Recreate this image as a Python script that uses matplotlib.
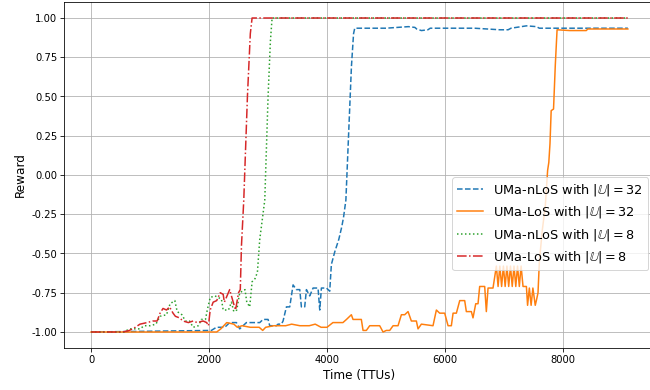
import matplotlib
matplotlib.use("Agg")
import matplotlib.pyplot as plt

# --- data -----------------------------------------------------------------
# UMa-nLoS, |U| = 32
nlos32_t = [0, 2040, 2125, 2266, 2351, 2464, 2520, 2634, 2690, 2747, 2860, 2916,
            3001, 3029, 3142, 3170, 3227, 3255, 3312, 3368, 3425, 3481, 3538,
            3566, 3622, 3651, 3707, 3764, 3848, 3877, 3905, 3990, 4046, 4074,
            4131, 4200, 4250, 4280, 4320, 4374, 4414, 4450, 4470, 5000, 5380,
            5490, 5520, 5600, 5710, 5750, 6500, 6930, 7070, 7120, 7380, 7550,
            7600, 9100]
nlos32_r = [-1.0, -0.99, -0.97, -0.97, -0.94, -0.94, -0.98, -0.94, -0.94,
            -0.94, -0.94, -0.92, -0.92, -0.96, -0.96, -0.95, -0.95, -0.93,
            -0.84, -0.84, -0.70, -0.73, -0.73, -0.84, -0.84, -0.73, -0.77,
            -0.72, -0.72, -0.86, -0.72, -0.72, -0.74, -0.57, -0.49, -0.41,
            -0.33, -0.27, -0.16, 0.33, 0.69, 0.90, 0.935, 0.935, 0.945, 0.94,
            0.93, 0.92, 0.925, 0.935, 0.935, 0.925, 0.925, 0.935, 0.95, 0.945,
            0.935, 0.935]

# UMa-LoS, |U| = 32
los32_t = [0, 2130, 2200, 2300, 2420, 2480, 2560, 2700, 2850, 2910, 2960, 3100,
           3300, 3400, 3540, 3700, 3800, 3900, 4000, 4100, 4270, 4330, 4413,
           4441, 4497, 4582, 4611, 4667, 4724, 4893, 4950, 5006, 5063, 5120,
           5204, 5261, 5317, 5374, 5430, 5515, 5543, 5600, 5797, 5854, 5910,
           5995, 6052, 6108, 6137, 6193, 6250, 6334, 6362, 6447, 6475, 6521,
           6560, 6588, 6673, 6701, 6730, 6814, 6871, 6900, 6930, 6960, 6990,
           7020, 7050, 7080, 7110, 7140, 7170, 7200, 7230, 7260, 7290, 7323,
           7380, 7400, 7430, 7460, 7490, 7530, 7549, 7577, 7600, 7650, 7700,
           7740, 7760, 7780, 7800, 7840, 7870, 7900, 8113, 8395, 8420, 9100]
los32_r = [-1.0, -1.0, -0.98, -0.94, -0.95, -0.97, -0.96, -0.97, -0.97, -0.99,
           -0.97, -0.96, -0.96, -0.95, -0.96, -0.96, -0.95, -0.97, -0.97,
           -0.94, -0.94, -0.92, -0.89, -0.92, -0.92, -0.92, -0.99, -0.99,
           -0.96, -0.96, -1.0, -0.99, -0.99, -0.96, -0.96, -0.89, -0.89,
           -0.87, -0.93, -0.93, -0.98, -0.95, -0.96, -0.86, -0.88, -0.88,
           -0.96, -0.96, -0.88, -0.88, -0.80, -0.80, -0.87, -0.87, -0.91,
           -0.82, -0.82, -0.71, -0.71, -0.87, -0.72, -0.72, -0.58, -0.71,
           -0.58, -0.71, -0.58, -0.71, -0.58, -0.71, -0.58, -0.71, -0.58,
           -0.71, -0.58, -0.71, -0.58, -0.71, -0.71, -0.83, -0.72, -0.83,
           -0.72, -0.83, -0.80, -0.75, -0.55, -0.35, -0.20, 0.03, 0.08, 0.20,
           0.41, 0.42, 0.70, 0.925, 0.92, 0.92, 0.93, 0.93]

# UMa-nLoS, |U| = 8
nlos8_t = [0, 560, 650, 830, 900, 1000, 1100, 1170, 1280, 1340, 1420, 1460,
           1540, 1600, 1670, 1730, 1820, 1870, 1940, 1970, 2020, 2100, 2210,
           2240, 2330, 2380, 2420, 2470, 2520, 2610, 2640, 2690, 2730, 2780,
           2820, 2860, 2945, 3001, 3040, 3069, 9100]
nlos8_r = [-1.0, -1.0, -0.98, -0.98, -0.96, -0.96, -0.95, -0.90, -0.89, -0.82,
           -0.80, -0.87, -0.89, -0.93, -0.93, -0.97, -0.96, -0.92, -0.92,
           -0.86, -0.78, -0.77, -0.79, -0.86, -0.86, -0.81, -0.87, -0.86,
           -0.75, -0.73, -0.81, -0.84, -0.68, -0.66, -0.62, -0.41, -0.16,
           0.50, 0.85, 1.0, 1.0]

# UMa-LoS, |U| = 8
los8_t = [0, 540, 650, 750, 830, 950, 1050, 1120, 1170, 1220, 1280, 1330,
          1390, 1430, 1500, 1560, 1650, 1730, 1800, 1900, 1960, 1990, 2020,
          2070, 2130, 2190, 2240, 2260, 2350, 2410, 2450, 2500, 2530, 2550,
          2589, 2651, 2700, 2730, 9100]
los8_r = [-1.0, -1.0, -0.99, -0.97, -0.95, -0.94, -0.93, -0.93, -0.88, -0.85,
          -0.86, -0.84, -0.88, -0.90, -0.91, -0.93, -0.94, -0.93, -0.94,
          -0.93, -0.94, -0.96, -0.86, -0.81, -0.80, -0.75, -0.76, -0.81,
          -0.73, -0.81, -0.86, -0.75, -0.73, -0.45, -0.16, 0.50, 0.90, 1.0,
          1.0]

labels = [r"UMa-nLoS with $|\mathbb{U}| = 32$",
          r"UMa-LoS with $|\mathbb{U}| = 32$",
          r"UMa-nLoS with $|\mathbb{U}| = 8$",
          r"UMa-LoS with $|\mathbb{U}| = 8$"]

x_ticks = [0, 2000, 4000, 6000, 8000]
y_ticks = [-1.0, -0.75, -0.5, -0.25, 0.0, 0.25, 0.5, 0.75, 1.0]

# --- figure ----------------------------------------------------------------
DPI = 650 / 9
fig = plt.figure(figsize=(9, 5.4), dpi=DPI)
ax = fig.add_axes([64.2 / 650, 42.3 / 390, 590.5 / 650, 345.4 / 390])

ax.plot(nlos32_t, nlos32_r, color="tab:blue", linestyle="--", label=labels[0])
ax.plot(los32_t, los32_r, color="tab:orange", linestyle="-", label=labels[1])
ax.plot(nlos8_t, nlos8_r, color="tab:green", linestyle=":", label=labels[2])
ax.plot(los8_t, los8_r, color="tab:red", linestyle="-.", label=labels[3])

ax.set_xlim(-455, 9555)
ax.set_ylim(-1.1, 1.1)
ax.set_xticks(x_ticks)
ax.set_yticks(y_ticks)
ax.yaxis.set_major_formatter(matplotlib.ticker.FormatStrFormatter("%.2f"))
ax.grid(True)

ax.set_xlabel("Time (TTUs)", fontsize=12)
ax.set_ylabel("Reward", fontsize=12)
ax.legend(loc="center right", bbox_to_anchor=(1.0, 0.359), fontsize=12.8)

fig.savefig("out.png", dpi=DPI)
